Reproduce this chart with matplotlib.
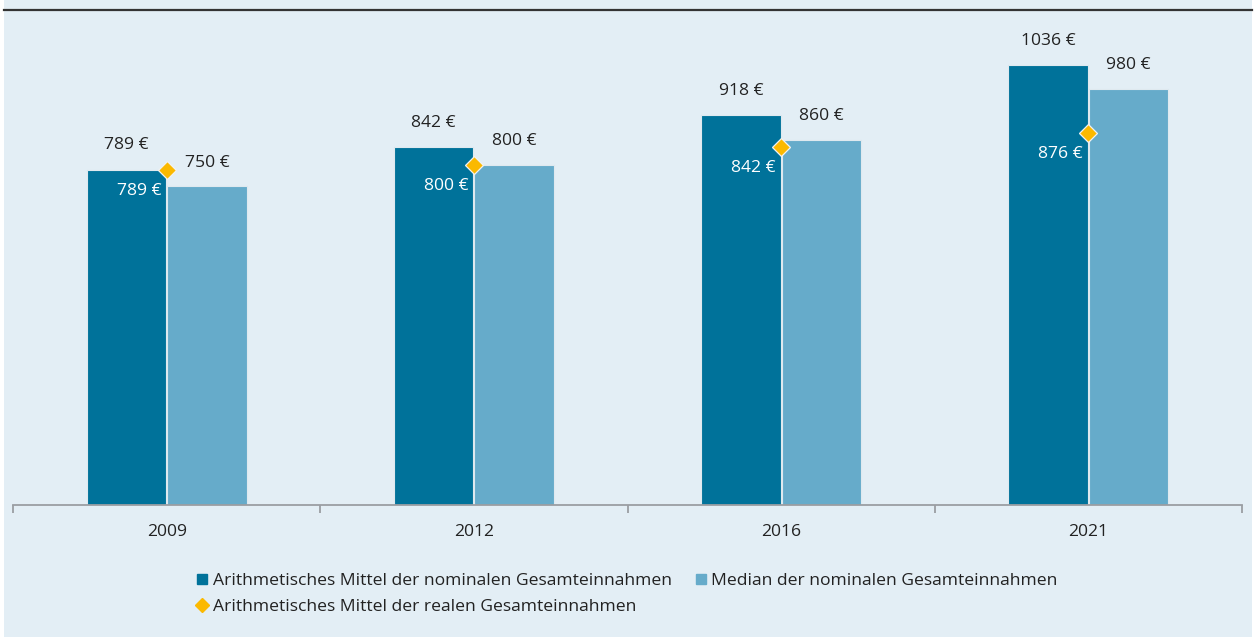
import matplotlib
matplotlib.use('Agg')
import matplotlib.pyplot as plt
from matplotlib.lines import Line2D
from matplotlib.patches import Rectangle
import numpy as np

years = ['2009', '2012', '2016', '2021']
mean_nominal = [789, 842, 918, 1036]
median_nominal = [750, 800, 860, 980]
mean_real = [789, 800, 842, 876]

label_mean = 'Arithmetisches Mittel der nominalen Gesamteinnahmen'
label_median = 'Median der nominalen Gesamteinnahmen'
label_real = 'Arithmetisches Mittel der realen Gesamteinnahmen'

c_dark = '#00729a'
c_light = '#66abca'
c_gold = '#fbb900'
c_bg = '#e3eef5'
c_text = '#222222'

plt.rcParams['font.family'] = ['Open Sans', 'DejaVu Sans']
plt.rcParams['font.size'] = 12.6

W, H = 1254, 637
fig = plt.figure(figsize=(W / 100, H / 100), dpi=100, facecolor='white')
fig.add_artist(Rectangle((4 / W, 0), 1248 / W, 1, transform=fig.transFigure,
                         facecolor=c_bg, edgecolor='none', zorder=-10))
fig.add_artist(Line2D([4 / W, 1252 / W], [1 - 10 / H, 1 - 10 / H],
                      transform=fig.transFigure, color='#333333', lw=1.6))

ax = fig.add_axes([13 / W, 132 / H, 1229 / W, 495 / H])
ax.set_facecolor('none')

x = np.arange(len(years))
bw = 0.258
off = 0.131
ax.bar(x - off, mean_nominal, bw, color=c_dark, edgecolor='#dfe9ef', lw=0.8, zorder=2)
ax.bar(x + off, median_nominal, bw, color=c_light, edgecolor='#dfe9ef', lw=0.8, zorder=2)
ax.plot(x, mean_real, ls='none', marker='D', ms=9, color=c_gold,
        markeredgecolor='#f2f2f2', markeredgewidth=0.9, zorder=4)

for i in range(len(years)):
    ax.annotate(f'{mean_nominal[i]} €', (x[i] - off, mean_nominal[i]),
                xytext=(0, 17.5), textcoords='offset points',
                ha='center', va='center', color=c_text)
    ax.annotate(f'{median_nominal[i]} €', (x[i] + off, median_nominal[i]),
                xytext=(0, 17), textcoords='offset points',
                ha='center', va='center', color=c_text)
    ax.annotate(f'{mean_real[i]} €', (x[i], mean_real[i]),
                xytext=(-4, -15), textcoords='offset points',
                ha='right', va='center', color='white')

ax.set_xlim(-0.5, len(years) - 0.5)
ax.set_ylim(0, 1165)
ax.set_yticks([])
for s in ['top', 'right', 'left']:
    ax.spines[s].set_visible(False)
ax.spines['bottom'].set_color('#9a9ea3')
ax.spines['bottom'].set_linewidth(1.3)
ax.set_xticks(x)
ax.set_xticklabels(years, color=c_text)
ax.tick_params(axis='x', which='major', length=0, pad=14)
ax.set_xticks(np.arange(len(years) + 1) - 0.5, minor=True)
ax.tick_params(axis='x', which='minor', length=6, width=1.3, color='#9a9ea3')

handles = [
    Line2D([], [], ls='none', marker='s', ms=7.5, color=c_dark),
    Line2D([], [], ls='none', marker='D', ms=7, color=c_gold),
    Line2D([], [], ls='none', marker='s', ms=7.5, color=c_light),
]
fig.legend(handles, [label_mean, label_real, label_median], ncol=2,
           loc='center', bbox_to_anchor=(0.5, 1 - 594 / H), frameon=False,
           handlelength=0.7, handletextpad=0.25, columnspacing=1.3,
           labelspacing=0.55, labelcolor=c_text)

fig.savefig('out.png', dpi=100, facecolor=fig.get_facecolor())
